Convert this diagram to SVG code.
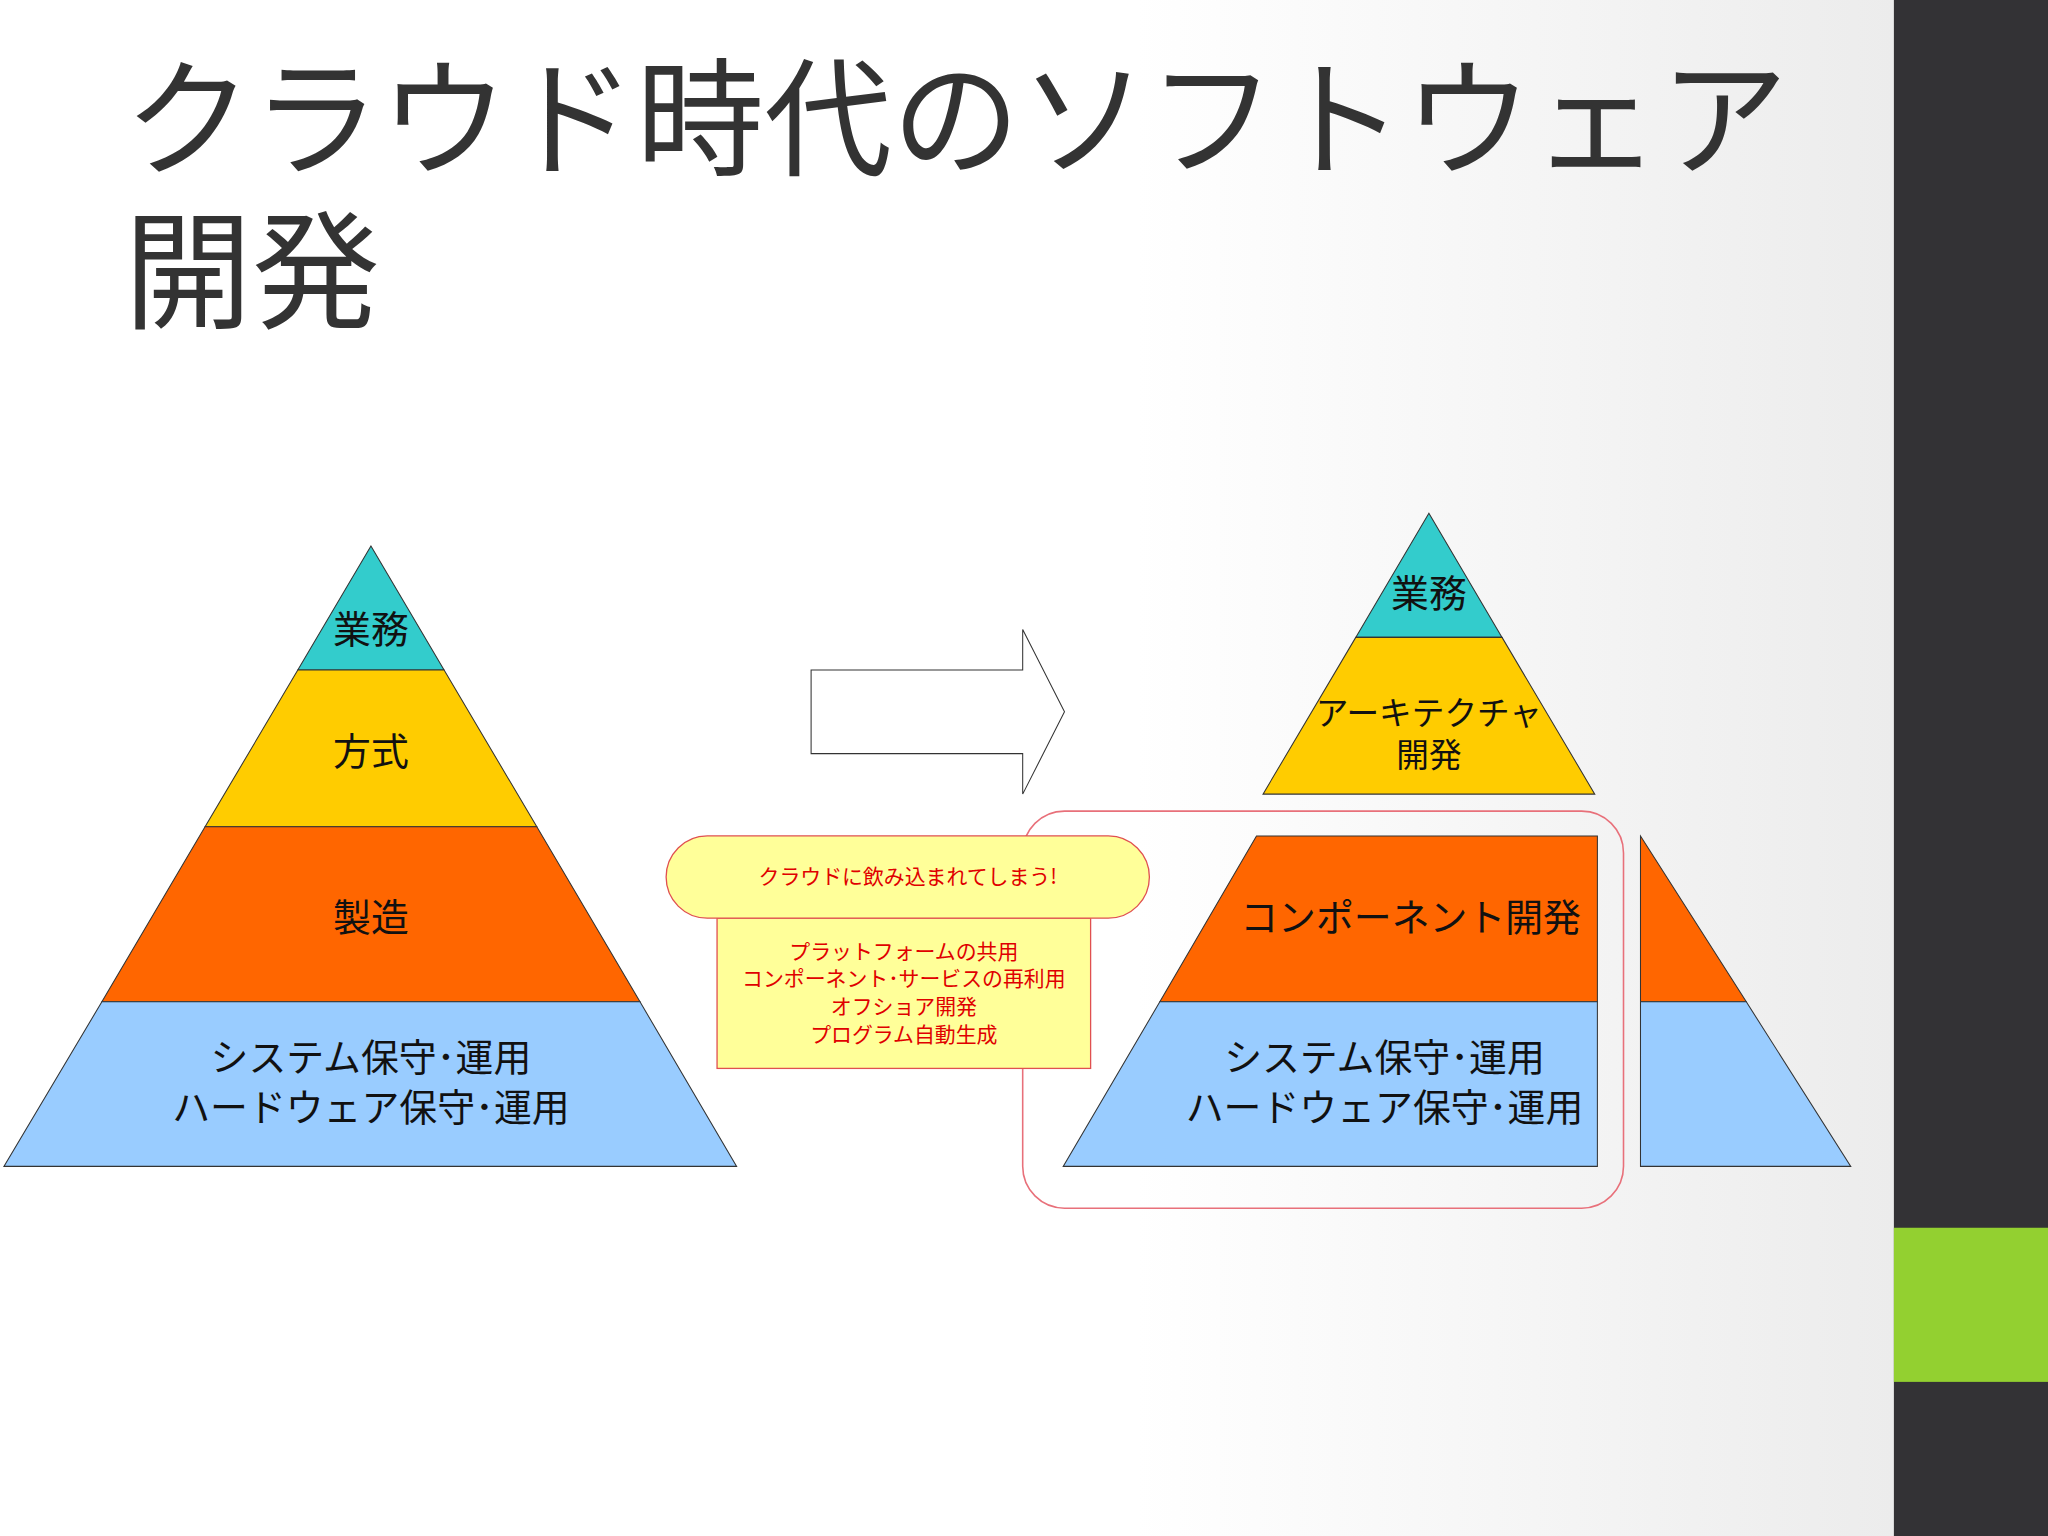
<svg xmlns="http://www.w3.org/2000/svg" width="2048" height="1536" viewBox="0 0 2048 1536">
<defs>
<linearGradient id="bg" x1="0" y1="0" x2="1" y2="0">
<stop offset="0" stop-color="#ffffff"/><stop offset="0.6" stop-color="#ffffff"/><stop offset="1" stop-color="#ececec"/>
</linearGradient>
<style>
.t{font-family:"Noto Sans CJK JP","Liberation Sans",sans-serif;text-anchor:middle;fill:#111}
.l{stroke:#333;stroke-width:0.8}
.c{fill:#33cccc}.y{fill:#ffcc00}.o{fill:#ff6600}.b{fill:#99ccff}
.r{font-family:"Noto Sans CJK JP","Liberation Sans",sans-serif;text-anchor:middle;fill:#e00000;font-size:16px}
</style>
</defs>
<g transform="scale(1.306122)">
<rect x="0" y="0" width="1450" height="1176" fill="url(#bg)"/>
<rect x="1450" y="0" width="118" height="1176" fill="#333235"/>
<rect x="1450" y="940" width="118" height="118" fill="#93d030"/>
<g id="title" font-family="Noto Sans CJK JP,Liberation Sans,sans-serif" font-size="98" fill="#333">
<text x="95" y="127">クラウド時代のソフトウェア</text>
<text x="95" y="244">開発</text>
</g>
<g id="left-pyramid">
<polygon class="c l" points="284,418 340,513 228,513"/>
<polygon class="y l" points="228,513 340,513 411,633 157,633"/>
<polygon class="o l" points="157,633 411,633 490,767 78,767"/>
<polygon class="b l" points="78,767 490,767 564,893 3,893"/>
<text class="t" x="284" y="492" font-size="29">業務</text>
<text class="t" x="284" y="586" font-size="29">方式</text>
<text class="t" x="284" y="713" font-size="29">製造</text>
<text class="t" x="284" y="820" font-size="29">システム保守･運用</text>
<text class="t" x="284" y="858" font-size="29">ハードウェア保守･運用</text>
</g>
<g id="connectors">
<polygon points="621,513 783,513 783,482 815,545 783,608 783,577 621,577" fill="#fff" stroke="#333" stroke-width="0.8"/>
</g>
<g id="right-top">
<polygon class="c l" points="1094,393 1150,488 1038,488"/>
<polygon class="y l" points="1038,488 1150,488 1221,608 967,608"/>
<text class="t" x="1094" y="465" font-size="29">業務</text>
<text class="t" x="1094" y="555" font-size="25">アーキテクチャ</text>
<text class="t" x="1094" y="587" font-size="25">開発</text>
</g>
<g id="right-bottom">
<polygon class="o l" points="962,640 1223,640 1223,767 888,767"/>
<polygon class="b l" points="888,767 1223,767 1223,893 814,893"/>
<text class="t" x="1080" y="713" font-size="29">コンポーネント開発</text>
<text class="t" x="1060" y="820" font-size="29">システム保守･運用</text>
<text class="t" x="1060" y="858" font-size="29">ハードウェア保守･運用</text>
</g>
<g id="right-piece">
<polygon class="o l" points="1256,640 1337,767 1256,767"/>
<polygon class="b l" points="1256,767 1337,767 1417,893 1256,893"/>
</g>
<g id="frame">
<rect x="783" y="621" width="460" height="304" rx="32" fill="none" stroke="#e8707a" stroke-width="1.2"/>
</g>
<g id="callout">
<rect x="549" y="703" width="286" height="115" fill="#ffff99" stroke="#e05050" stroke-width="1"/>
<rect x="510" y="640" width="370" height="63" rx="31.5" fill="#ffff99" stroke="#e05050" stroke-width="1"/>
<text class="r" x="695" y="677">クラウドに飲み込まれてしまう!</text>
<text class="r" x="692" y="734">プラットフォームの共用</text>
<text class="r" x="692" y="755">コンポーネント･サービスの再利用</text>
<text class="r" x="692" y="776">オフショア開発</text>
<text class="r" x="692" y="798">プログラム自動生成</text>
</g>
</g>
</svg>
